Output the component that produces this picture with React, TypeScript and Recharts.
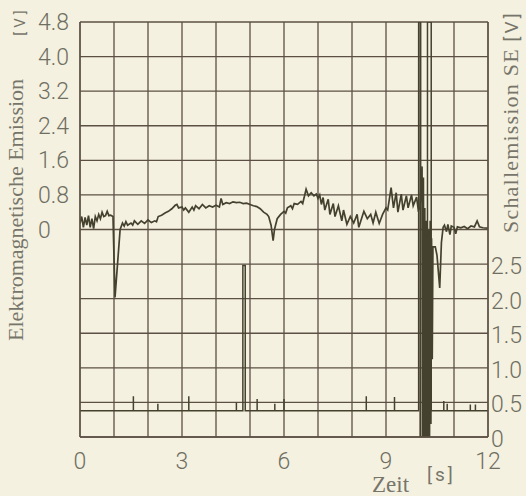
import { LineChart, Line, XAxis, YAxis, CartesianGrid } from "recharts";

// time axis (s)
const TIME_TICKS = [0, 3, 6, 9, 12];
const TIME_GRID = [0, 1, 2, 3, 4, 5, 6, 7, 8, 9, 10, 11, 12];

// left axis: elektromagnetische Emission [V]
const EM_TICKS = [0, 0.8, 1.6, 2.4, 3.2, 4.0, 4.8];
const EM_GRID = [-4.8, -4.0, -3.2, -2.4, -1.6, -0.8, 0, 0.8, 1.6, 2.4, 3.2, 4.0, 4.8];

// right axis: Schallemission SE [V]
const SE_TICKS = [0, 0.5, 1.0, 1.5, 2.0, 2.5];

// EM trace
const EM_T = [
  0, 0.05, 0.1, 0.15, 0.2, 0.25, 0.3, 0.35, 0.4, 0.45, 0.5, 0.55, 0.6, 0.65, 0.7, 0.75, 0.8, 0.85, 0.9, 0.97,
  1.03, 1.18, 1.25, 1.3, 1.35, 1.4, 1.5, 1.55, 1.6, 1.7, 1.8, 1.9, 2.0, 2.1, 2.2, 2.25,
  2.3, 2.4, 2.5, 2.6, 2.7, 2.8, 2.85, 2.9, 3.0, 3.05, 3.1, 3.2, 3.3, 3.35, 3.4, 3.5, 3.6, 3.7, 3.8, 3.9,
  4.0, 4.1, 4.15, 4.2, 4.3, 4.4, 4.5, 4.6, 4.7, 4.8, 4.9, 5.0, 5.1, 5.2, 5.3, 5.4, 5.5, 5.55, 5.62, 5.68, 5.72, 5.8, 5.9,
  6.0, 6.05, 6.1, 6.2, 6.25, 6.3, 6.4, 6.5, 6.55, 6.65, 6.72, 6.8, 6.88, 6.95, 7.0, 7.05, 7.1, 7.15, 7.2, 7.3, 7.35,
  7.45, 7.5, 7.6, 7.7, 7.75, 7.85, 7.95, 8.05, 8.15, 8.2, 8.3, 8.35, 8.45, 8.55, 8.62, 8.7, 8.8, 8.9,
  9.0, 9.05, 9.15, 9.22, 9.3, 9.35, 9.45, 9.5, 9.6, 9.65, 9.75, 9.8, 9.9, 9.95, 10.0,
  10.03, 10.06, 10.08, 10.1, 10.12, 10.14, 10.16, 10.18, 10.2, 10.22, 10.24, 10.26, 10.28, 10.3, 10.32, 10.34, 10.36,
  10.38, 10.45, 10.5, 10.58, 10.63, 10.68, 10.72, 10.78, 10.82, 10.88, 10.92, 11.0, 11.05, 11.1, 11.2, 11.3, 11.4, 11.5,
  11.6, 11.68, 11.75, 11.85, 12.0,
];
const EM_V = [
  0.14, 0.3, 0.05, 0.28, 0.1, 0.32, 0.05, 0.25, 0.02, 0.3, 0.2, 0.35, 0.25, 0.4, 0.3, 0.32, 0.42, 0.32, 0.33, 0.3,
  -1.57, 0.0, 0.15, 0.08, 0.18, 0.1, 0.15, 0.1, 0.2, 0.12, 0.2, 0.14, 0.22, 0.16, 0.2, 0.18,
  0.3, 0.33, 0.38, 0.42, 0.48, 0.56, 0.58, 0.5, 0.52, 0.45, 0.5, 0.4, 0.52, 0.45, 0.55, 0.48, 0.58, 0.5, 0.55, 0.52,
  0.56, 0.52, 0.72, 0.58, 0.62, 0.6, 0.64, 0.62, 0.63, 0.6, 0.61, 0.58, 0.55, 0.53, 0.48, 0.4, 0.35, 0.3, 0.1, -0.26, 0.0, 0.25, 0.35,
  0.42, 0.38, 0.5, 0.55, 0.48, 0.6, 0.58, 0.65, 0.6, 0.93, 0.78, 0.85, 0.78, 0.82, 0.72, 0.8, 0.58, 0.74, 0.45, 0.7, 0.35,
  0.6, 0.3, 0.55, 0.2, 0.45, 0.12, 0.3, 0.15, 0.35, 0.05, 0.3, 0.42, 0.25, 0.35, 0.15, 0.4, 0.14, 0.35,
  0.5, 0.45, 0.97, 0.5, 0.85, 0.4, 0.82, 0.45, 0.78, 0.5, 0.8, 0.55, 0.75, 0.45, 0.5,
  1.0, 1.46, -4.8, 1.2, -4.8, 0.5, -4.8, 0.2, -4.8, -0.2, -4.8, 0.0, -4.8, 0.2, -4.5, -0.2, -3.0,
  -0.4, -0.4, -0.6, -1.35, -0.3, 0.05, 0.1, -0.05, 0.12, -0.12, 0.08, 0.05, -0.1, 0.06, 0.04, 0.07, 0.02, 0.08,
  0.06, 0.2, 0.06, 0.04, 0.03,
];

// SE trace: baseline with short pulses
const SE_T = [
  0, 1.57, 1.57, 1.57, 2.29, 2.29, 2.29, 3.2, 3.2, 3.2, 4.6, 4.6, 4.6, 4.79, 4.79, 4.86, 4.86,
  5.21, 5.21, 5.21, 5.73, 5.73, 5.73, 6.0, 6.0, 6.0, 8.42, 8.42, 8.42, 9.25, 9.25, 9.25,
  9.96, 9.96, 10.02, 10.02, 10.22, 10.22, 10.33, 10.33,
  10.7, 10.7, 10.7, 10.8, 10.8, 10.8, 11.48, 11.48, 11.48, 11.63, 11.63, 11.63, 12.0,
];
const SE_V = [
  0.38, 0.38, 0.59, 0.38, 0.38, 0.48, 0.38, 0.38, 0.59, 0.38, 0.38, 0.5, 0.38, 0.38, 2.48, 2.48, 0.38,
  0.38, 0.55, 0.38, 0.38, 0.48, 0.38, 0.38, 0.55, 0.38, 0.38, 0.59, 0.38, 0.38, 0.58, 0.38,
  0.38, 6, 6, 0, 0, 6, 6, 0.38,
  0.38, 0.52, 0.38, 0.38, 0.48, 0.38, 0.38, 0.47, 0.38, 0.38, 0.47, 0.38, 0.38,
];

const emData = EM_T.map((t, i) => ({ t, v: EM_V[i] }));
const seData = SE_T.map((t, i) => ({ t, v: SE_V[i] }));

const BG = "#f4f1e0";
const GRID = "#5c5044";
const TRACE = "#44422f";
const TICK_TEXT = "#6f6e62";
const TITLE_TEXT = "#77756a";

const fmt = (v: number) => (v === 0 ? "0" : v.toFixed(1));

function LeftTick({ y, payload }: any) {
  return (
    <text x={38} y={y} dy={8} textAnchor="start" fill={TICK_TEXT} fontSize={23} fontFamily="Roboto" fontWeight={300}>
      {fmt(payload.value)}
    </text>
  );
}

function RightTick({ y, payload }: any) {
  return (
    <text x={491} y={y} dy={10} textAnchor="start" fill={TICK_TEXT} fontSize={23} fontFamily="Roboto" fontWeight={300}>
      {fmt(payload.value)}
    </text>
  );
}

function TimeTick({ x, payload }: any) {
  return (
    <text x={x} y={469} textAnchor="middle" fill={TICK_TEXT} fontSize={23} fontFamily="Roboto" fontWeight={300}>
      {payload.value}
    </text>
  );
}

export default function App() {
  return (
    <div style={{ position: "absolute", left: 0, top: 0, width: 526, height: 496, background: BG, overflow: "hidden" }}>
      <LineChart width={526} height={496} margin={{ top: 22, right: 0, bottom: 0, left: 0 }}>
        <CartesianGrid
          yAxisId="em"
          horizontalValues={EM_GRID}
          verticalValues={TIME_GRID}
          stroke={GRID}
          strokeWidth={1.3}
        />
        <XAxis
          dataKey="t"
          type="number"
          domain={[0, 12]}
          ticks={TIME_TICKS}
          allowDataOverflow
          height={59}
          tickLine={false}
          axisLine={{ stroke: GRID, strokeWidth: 1.3 }}
          tick={<TimeTick />}
        />
        <YAxis
          yAxisId="em"
          type="number"
          domain={[-4.8, 4.8]}
          ticks={EM_TICKS}
          allowDataOverflow
          width={80}
          tickLine={false}
          axisLine={{ stroke: GRID, strokeWidth: 1.3 }}
          tick={<LeftTick />}
        />
        <YAxis
          yAxisId="se"
          orientation="right"
          type="number"
          domain={[0, 6]}
          ticks={SE_TICKS}
          allowDataOverflow
          width={38}
          tickLine={false}
          axisLine={{ stroke: GRID, strokeWidth: 1.3 }}
          tick={<RightTick />}
        />
        <Line
          data={seData}
          yAxisId="se"
          dataKey="v"
          type="linear"
          dot={false}
          stroke={TRACE}
          strokeWidth={1.5}
          isAnimationActive={false}
        />
        <Line
          data={emData}
          yAxisId="em"
          dataKey="v"
          type="linear"
          dot={false}
          stroke={TRACE}
          strokeWidth={1.7}
          isAnimationActive={false}
        />
      </LineChart>
      <svg width={526} height={496} style={{ position: "absolute", left: 0, top: 0, pointerEvents: "none" }}>
        <text
          transform="translate(23 210) rotate(-90)"
          textAnchor="middle"
          fill={TITLE_TEXT}
          fontSize={22}
          fontFamily="Liberation Serif"
        >
          Elektromagnetische Emission
        </text>
        <text
          transform="translate(25 21) rotate(-90)"
          textAnchor="middle"
          fill={TITLE_TEXT}
          fontSize={15}
          letterSpacing={4}
          fontFamily="Roboto"
        >
          [V]
        </text>
        <text
          transform="translate(518 233) rotate(-90)"
          textAnchor="start"
          fill={TITLE_TEXT}
          fontSize={22}
          letterSpacing={1.2}
          fontFamily="Liberation Serif"
        >
          Schallemission SE{" "}
          <tspan fontFamily="Roboto" fontSize={19} letterSpacing={3}>
            [V]
          </tspan>
        </text>
        <text x={372} y={492} fill={TITLE_TEXT} fontSize={23} fontFamily="Liberation Serif">
          Zeit
        </text>
        <text x={427} y={481} fill={TITLE_TEXT} fontSize={19} letterSpacing={3} fontFamily="Roboto">
          [s]
        </text>
      </svg>
    </div>
  );
}
